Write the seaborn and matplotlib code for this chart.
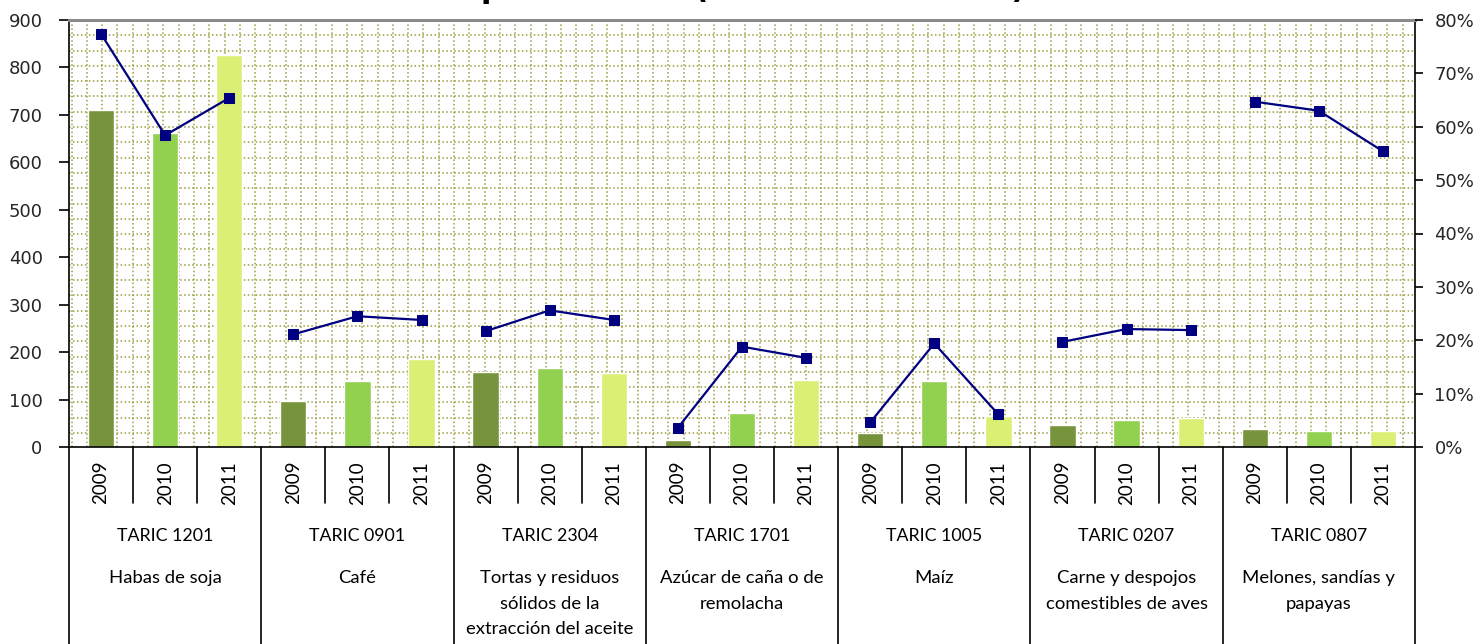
import numpy as np
import pandas as pd
import matplotlib
matplotlib.use("Agg")
import matplotlib.pyplot as plt
from matplotlib.ticker import FuncFormatter
import seaborn as sns

# values
groups = ["TARIC 1201", "TARIC 0901", "TARIC 2304", "TARIC 1701",
          "TARIC 1005", "TARIC 0207", "TARIC 0807"]
names = ["Habas de soja", "Café", "Tortas y residuos\nsólidos de la\nextracción del aceite",
         "Azúcar de caña o de\nremolacha", "Maíz", "Carne y despojos\ncomestibles de aves",
         "Melones, sandías y\npapayas"]
years = ["2009", "2010", "2011"]
val_2009 = [711, 97, 158, 14, 29, 46, 37]
val_2010 = [661, 139, 166, 71, 139, 57, 33]
val_2011 = [827, 185, 155, 141, 65, 61, 33]
share_2009 = [77.4, 21.1, 21.7, 3.6, 4.6, 19.7, 64.7]
share_2010 = [58.4, 24.5, 25.6, 18.8, 19.4, 22.1, 63.0]
share_2011 = [65.4, 23.8, 23.8, 16.7, 6.1, 21.9, 55.4]

colors = {"2009": "#77933c", "2010": "#92d050", "2011": "#dcef75"}
navy = "#000080"

rows = []
for i, g in enumerate(groups):
    for y, v, s in zip(years, (val_2009, val_2010, val_2011), (share_2009, share_2010, share_2011)):
        rows.append({"group": g, "year": y, "slot": g + " " + y, "value": v[i], "share": s[i] / 100})
df = pd.DataFrame(rows)
df["pos"] = np.arange(len(df))

sns.set_theme(style="white")
plt.rcParams["font.family"] = ["DejaVu Sans"]

fig = plt.figure(figsize=(14.77, 6.44), dpi=100)
ax = fig.add_axes([69 / 1477, 1 - 447 / 644, 1346 / 1477, 427 / 644])

# dotted grid pattern of the plot area
step_y = 15.3 / 427
step_x = 15.3 / 1346
grid_kw = dict(color="#9c9c3e", linestyle=(0, (1, 1.6)), linewidth=1.1, zorder=0)
ax.hlines(np.arange(1, 0, -step_y), 0, 1, transform=ax.transAxes, **grid_kw)
ax.vlines(np.arange(2.5 / 1346, 1, step_x), 0, 1, transform=ax.transAxes, **grid_kw)

sns.barplot(data=df, x="slot", y="value", hue="year", palette=colors, dodge=False,
            width=0.41, order=list(df["slot"]), legend=False, ax=ax, zorder=2,
            saturation=1)
ax.set_xlim(-0.5, len(df) - 0.5)
ax.set_ylim(0, 900)
ax.set_yticks(range(0, 901, 100))
ax.set_xticks([])
ax.set_xlabel("")
ax.set_ylabel("")
ax.tick_params(axis="y", direction="out", length=7, width=1.2, color="black",
               labelsize=13, pad=12, left=True)

for side in ["left", "right", "bottom"]:
    ax.spines[side].set_color("black")
    ax.spines[side].set_linewidth(1.2)
ax.spines["top"].set_color("#8a8a8a")
ax.spines["top"].set_linewidth(2.2)

ax2 = ax.twinx()
sns.lineplot(data=df, x="pos", y="share", units="group", estimator=None, sort=False,
             color=navy, linewidth=1.6, marker="s", markersize=7.5, markeredgecolor=navy,
             ax=ax2, zorder=5)
ax2.set_ylim(0, 0.8)
ax2.set_yticks(np.arange(0, 0.81, 0.1))
ax2.yaxis.set_major_formatter(FuncFormatter(lambda v, p: f"{v * 100:.0f}%"))
ax2.set_xlim(-0.5, len(df) - 0.5)
ax2.set_xlabel("")
ax2.set_ylabel("")
ax2.tick_params(axis="y", direction="out", length=6, width=1.2, color="black",
                labelsize=13, pad=8, right=True)
for side in ["left", "right", "bottom", "top"]:
    ax2.spines[side].set_visible(False)

# multi-level category axis
trans = ax.get_xaxis_transform()
label_font = ["Lato", "DejaVu Sans"]
n = len(df)
for k in range(n + 1):
    x = k - 0.5
    low = -197 / 427 if k % 3 == 0 else -56 / 427
    ax.plot([x, x], [0, low], transform=trans, color="black", linewidth=1.2,
            clip_on=False)
for k, yr in enumerate(df["year"]):
    ax.text(k, -14 / 427, yr, transform=trans, rotation=90, ha="center", va="top",
            fontsize=13.5, family=label_font, color="black")
for i, (g, nm) in enumerate(zip(groups, names)):
    cx = 3 * i + 1
    ax.text(cx, -89 / 427, g, transform=trans, ha="center", va="center",
            fontsize=12.8, family=label_font, color="black")
    ax.text(cx, -123 / 427, nm, transform=trans, ha="center", va="top",
            fontsize=13.3, family=label_font, color="black", linespacing=1.75,
            multialignment="center")

# title, cut off at the top edge like the reference
fig.text(753.5 / 1477, 1 + 2 / 644, "portaciones (Millones de euros)", ha="center",
         va="baseline", fontsize=22, fontweight="bold", color="black")

fig.savefig("out.png", dpi=100)
